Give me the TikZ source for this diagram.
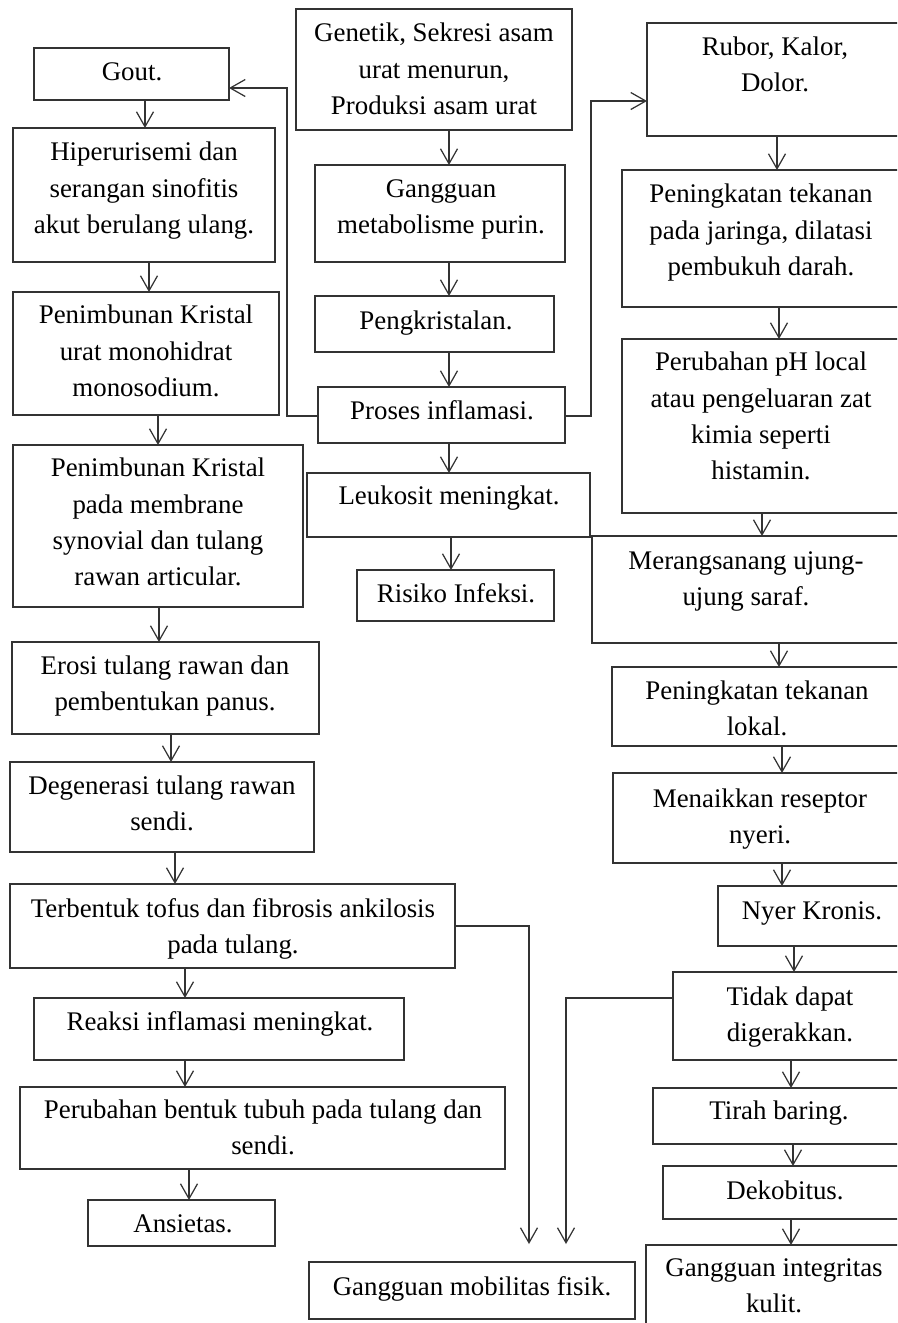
\documentclass[tikz,border=0pt]{standalone}
\usepackage{fontspec}
\setmainfont{Liberation Serif}
\usetikzlibrary{arrows.meta}
\definecolor{linec}{gray}{0.2}
\newcommand\mkbox[5]{\node[box, minimum width={(#4-#2)*0.02cm}, minimum height={(#5-#3)*0.02cm}] (#1) at ({(#2+#4)/2},{(#3+#5)/2}) {};}
\newcommand\mktxt[4]{\node[txt] (#1) at (#2,#3) {\strut #4\strut};}
\begin{document}
\begin{tikzpicture}[x=0.02cm, y=-0.02cm,
 box/.style={draw=linec, line width=0.7pt, rectangle, inner sep=0pt, outer sep=0pt},
 txt/.style={align=center, inner sep=0pt, font=\fontsize{15.3pt}{20.7pt}\selectfont, text=black},
 arr/.style={draw=linec, line width=0.7pt, -{Straight Barb[length=0.3cm, width=0.34cm]}}]
\useasboundingbox (0,0) rectangle (897,1323);
\fill[white] (0,0) rectangle (897,1323);
\clip (0,0) rectangle (897,1323);
% left column
\mkbox{gout}{34}{48}{229}{100}
\mkbox{hiper}{13}{128}{275}{262}
\mkbox{penU}{13}{292}{279}{415}
\mkbox{penM}{13}{445}{303}{607}
\mkbox{erosi}{12}{642}{319}{734}
\mkbox{degen}{10}{762}{314}{852}
\mkbox{terb}{10}{884}{455}{968}
\mkbox{reaksi}{34}{998}{404}{1060}
\mkbox{perubB}{20}{1087}{505}{1169}
\mkbox{ansietas}{88}{1200}{275}{1246}
% middle column
\mkbox{genetik}{296}{9}{572}{130}
\mkbox{gangMet}{315}{165}{565}{262}
\mkbox{pengk}{315}{296}{554}{352}
\mkbox{proses}{318}{387}{565}{443}
\mkbox{leuk}{307}{473}{590}{537}
\mkbox{risiko}{357}{570}{554}{621}
\mkbox{ggMob}{309}{1262}{635}{1319}
% right column
\mkbox{rubor}{647}{23}{930}{136}
\mkbox{penJ}{622}{170}{930}{307}
\mkbox{perPH}{622}{339}{930}{513}
\mkbox{meran}{592}{536}{930}{643}
\mkbox{penL}{612}{667}{930}{746}
\mkbox{menaik}{613}{773}{930}{863}
\mkbox{nyer}{718}{886}{930}{946}
\mkbox{tidak}{673}{972}{930}{1060}
\mkbox{tirah}{653}{1088}{930}{1144}
\mkbox{dekob}{663}{1166}{930}{1219}
\mkbox{ggInt}{646}{1245}{930}{1345}
% texts
\mktxt{gout-t}{132}{73}{Gout.}
\mktxt{hiper-t}{144}{190}{Hiperurisemi dan\\serangan sinofitis\\akut berulang ulang.}
\mktxt{penU-t}{146}{353}{Penimbunan Kristal\\urat monohidrat\\monosodium.}
\mktxt{penM-t}{158}{524}{Penimbunan Kristal\\pada membrane\\synovial dan tulang\\rawan articular.}
\mktxt{erosi-t}{165}{685}{Erosi tulang rawan dan\\pembentukan panus.}
\mktxt{degen-t}{162}{805}{Degenerasi tulang rawan\\sendi.}
\mktxt{terb-t}{233}{928}{Terbentuk tofus dan fibrosis ankilosis\\pada tulang.}
\mktxt{reaksi-t}{220}{1023}{Reaksi inflamasi meningkat.}
\mktxt{perubB-t}{263}{1129}{Perubahan bentuk tubuh pada tulang dan\\sendi.}
\mktxt{ansietas-t}{183}{1225}{Ansietas.}
\mktxt{genetik-t}{434}{71}{Genetik, Sekresi asam\\urat menurun,\\Produksi asam urat}
\mktxt{gangMet-t}{441}{208}{Gangguan\\metabolisme purin.}
\mktxt{pengk-t}{436}{322}{Pengkristalan.}
\mktxt{proses-t}{442}{412}{Proses inflamasi.}
\mktxt{leuk-t}{449}{497}{Leukosit meningkat.}
\mktxt{risiko-t}{456}{595}{Risiko Infeksi.}
\mktxt{ggMob-t}{472}{1288}{Gangguan mobilitas fisik.}
\mktxt{rubor-t}{775}{66}{Rubor, Kalor,\\Dolor.}
\mktxt{penJ-t}{761}{232}{Peningkatan tekanan\\pada jaringa, dilatasi\\pembukuh darah.}
\mktxt{perPH-t}{761}{418}{Perubahan pH local\\atau pengeluaran zat\\kimia seperti\\histamin.}
\mktxt{meran-t}{746}{580}{Merangsanang ujung-\\ujung saraf.}
\mktxt{penL-t}{757}{710}{Peningkatan tekanan\\lokal.}
\mktxt{menaik-t}{760}{818}{Menaikkan reseptor\\nyeri.}
\mktxt{nyer-t}{812}{912}{Nyer Kronis.}
\mktxt{tidak-t}{790}{1016}{Tidak dapat\\digerakkan.}
\mktxt{tirah-t}{779}{1112}{Tirah baring.}
\mktxt{dekob-t}{785}{1192}{Dekobitus.}
\mktxt{ggInt-t}{774}{1287}{Gangguan integritas\\kulit.}
% left arrows
\draw[arr] (gout.south -| 145,0) -- (hiper.north -| 145,0);
\draw[arr] (hiper.south -| 149,0) -- (penU.north -| 149,0);
\draw[arr] (penU.south -| 158,0) -- (penM.north -| 158,0);
\draw[arr] (penM.south -| 159,0) -- (erosi.north -| 159,0);
\draw[arr] (erosi.south -| 171,0) -- (degen.north -| 171,0);
\draw[arr] (degen.south -| 175,0) -- (terb.north -| 175,0);
\draw[arr] (terb.south -| 185,0) -- (reaksi.north -| 185,0);
\draw[arr] (reaksi.south -| 185,0) -- (perubB.north -| 185,0);
\draw[arr] (perubB.south -| 189,0) -- (ansietas.north -| 189,0);
% middle arrows
\draw[arr] (genetik.south -| 449,0) -- (gangMet.north -| 449,0);
\draw[arr] (gangMet.south -| 449,0) -- (pengk.north -| 449,0);
\draw[arr] (pengk.south -| 449,0) -- (proses.north -| 449,0);
\draw[arr] (proses.south -| 449,0) -- (leuk.north -| 449,0);
\draw[arr] (leuk.south -| 451,0) -- (risiko.north -| 451,0);
\draw[arr] (proses.west |- 0,416) -- (287,416) -- (287,88) -- (gout.east |- 0,88);
\draw[arr] (proses.east |- 0,416) -- (591,416) -- (591,101) -- (rubor.west |- 0,101);
% right arrows
\draw[arr] (rubor.south -| 777,0) -- (penJ.north -| 777,0);
\draw[arr] (penJ.south -| 779,0) -- (perPH.north -| 779,0);
\draw[arr] (perPH.south -| 762,0) -- (meran.north -| 762,0);
\draw[arr] (meran.south -| 779,0) -- (penL.north -| 779,0);
\draw[arr] (penL.south -| 782,0) -- (menaik.north -| 782,0);
\draw[arr] (menaik.south -| 782,0) -- (nyer.north -| 782,0);
\draw[arr] (nyer.south -| 794,0) -- (tidak.north -| 794,0);
\draw[arr] (tidak.south -| 791,0) -- (tirah.north -| 791,0);
\draw[arr] (tirah.south -| 793,0) -- (dekob.north -| 793,0);
\draw[arr] (dekob.south -| 791,0) -- (ggInt.north -| 791,0);
% to Gangguan mobilitas
\coordinate (m1) at (529,1244);
\coordinate (m2) at (566,1244);
\draw[arr] (terb.east |- 0,926) -- (529,926) -- (m1);
\draw[arr] (tidak.west |- 0,998) -- (566,998) -- (m2);
\end{tikzpicture}
\end{document}
